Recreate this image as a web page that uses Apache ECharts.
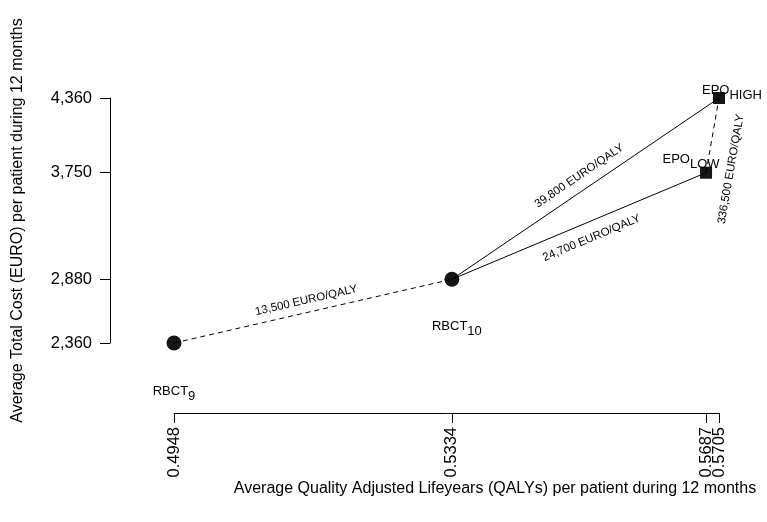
<!DOCTYPE html>
<html>
<head>
<meta charset="utf-8">
<script src="https://cdn.jsdelivr.net/npm/echarts@6/dist/echarts.min.js"></script>
<style>
html,body{margin:0;padding:0;background:#fff;}
#chart{width:767px;height:522px;}
</style>
</head>
<body>
<div id="chart"></div>
<script>
// ---- data ----
const qaly = [0.4948, 0.5334, 0.5687, 0.5705];
const cost = [2360, 2880, 3750, 4360];
const pointNames = ['RBCT', 'RBCT', 'EPO', 'EPO'];
const pointSubs = ['9', '10', 'LOW', 'HIGH'];
const xTicks = [0.4948, 0.5334, 0.5687, 0.5705];
const xLabelsA = [0.4948, 0.5334, 0.5705];
const xLabelsB = [0.5687];
const yTicks = [2360, 2880, 3750, 4360];
const segFrom = [0, 1, 1, 2];
const segTo = [1, 3, 2, 3];
const segIcer = ['13,500 EURO/QALY', '39,800 EURO/QALY', '24,700 EURO/QALY', '336,500 EURO/QALY'];
const xTitle = 'Average Quality Adjusted Lifeyears (QALYs) per patient during 12 months';
const yTitle = 'Average Total Cost (EURO) per patient during 12 months';

// ---- styles / layout ----
const FONT = 'Liberation Sans, Arial, Helvetica, sans-serif';
const segDash = [[5, 4], 'solid', 'solid', [5, 4]];
const segLabelPos = ['insideMiddleTop', 'insideMiddleTop', 'insideMiddleBottom', 'insideMiddleBottom'];
const segLabelDist = [6, 8, 10, 18];
const segLabelPad = [[0, 8, 0, 0], [0, 0, 0, 4], [0, 0, 0, 14], [0, 60, 0, 0]];
const labelOffsets = [[0, 49], [5, 48], [-15, -13], [13, -7]];

function fmtThousands(v) {
  return String(Math.round(v)).replace(/\B(?=(\d{3})+(?!\d))/g, ',');
}

const xLabelStyle = {rotate: 90, margin: 14, fontSize: 16.5, color: '#000',
  fontFamily: FONT, formatter: v => v.toFixed(4), hideOverlap: false,
  showMinLabel: true, showMaxLabel: true};

const chart = echarts.init(document.getElementById('chart'), null, {renderer: 'canvas'});

const option = {
  animation: false,
  backgroundColor: '#fff',
  textStyle: {fontFamily: FONT, color: '#000'},
  grid: {left: 174, right: 48, top: 98, bottom: 179, containLabel: false},
  xAxis: [{
    type: 'value', min: 0.4948, max: 0.5705, offset: 70, position: 'bottom',
    axisLine: {show: true, lineStyle: {color: '#000', width: 1}},
    axisTick: {show: true, length: 10, customValues: xTicks, lineStyle: {color: '#000', width: 1}},
    axisLabel: Object.assign({customValues: xLabelsA}, xLabelStyle),
    splitLine: {show: false}
  }, {
    type: 'value', min: 0.4948, max: 0.5705, offset: 70, position: 'bottom',
    axisLine: {show: false},
    axisTick: {show: false},
    axisLabel: Object.assign({customValues: xLabelsB}, xLabelStyle),
    splitLine: {show: false}
  }],
  yAxis: {
    type: 'value', min: 2360, max: 4360, offset: 64,
    name: yTitle, nameLocation: 'middle', nameGap: 84,
    nameTextStyle: {fontSize: 16, color: '#000', fontFamily: FONT},
    axisLine: {show: true, lineStyle: {color: '#000', width: 1}},
    axisTick: {show: true, length: 10, customValues: yTicks, lineStyle: {color: '#000', width: 1}},
    axisLabel: {customValues: yTicks, margin: 18, fontSize: 16.5, color: '#000',
      fontFamily: FONT, formatter: v => fmtThousands(v), showMinLabel: true, showMaxLabel: true},
    splitLine: {show: false}
  },
  graphic: [{
    type: 'text', x: 495, y: 489,
    style: {text: xTitle, fontSize: 16, fontFamily: FONT, fill: '#000', align: 'center', verticalAlign: 'middle'}
  }],
  series: [{
    type: 'scatter',
    xAxisIndex: 0,
    clip: false,
    z: 3,
    symbol: (val, p) => p.dataIndex < 2 ? 'circle' : 'rect',
    symbolSize: (val, p) => p.dataIndex < 2 ? 15 : 12,
    itemStyle: {color: '#151515', opacity: 1},
    data: qaly.map((x, i) => ({
      value: [x, cost[i]],
      label: {offset: labelOffsets[i]}
    })),
    label: {
      show: true, position: 'inside', color: '#000', textBorderWidth: 0, opacity: 1,
      formatter: p => '{m|' + pointNames[p.dataIndex] + '}{s|' + pointSubs[p.dataIndex] + '}',
      rich: {
        m: {fontSize: 13, color: '#000', fontFamily: FONT, verticalAlign: 'top', lineHeight: 14, textBorderWidth: 0},
        s: {fontSize: 13, color: '#000', fontFamily: FONT, verticalAlign: 'top', lineHeight: 14, padding: [5, 0, 0, 0], textBorderWidth: 0}
      }
    },
    markLine: {
      silent: true,
      symbol: ['none', 'none'],
      animation: false,
      data: segFrom.map((f, k) => [
        {
          coord: [qaly[f], cost[f]],
          lineStyle: {type: segDash[k], color: '#000', width: 1, opacity: 1},
          label: {
            show: true, position: segLabelPos[k], distance: segLabelDist[k],
            formatter: segIcer[k], fontSize: 11.5, color: '#000', fontFamily: FONT,
            padding: segLabelPad[k]
          }
        },
        {coord: [qaly[segTo[k]], cost[segTo[k]]]}
      ])
    }
  }]
};
chart.setOption(option);
</script>
</body>
</html>
